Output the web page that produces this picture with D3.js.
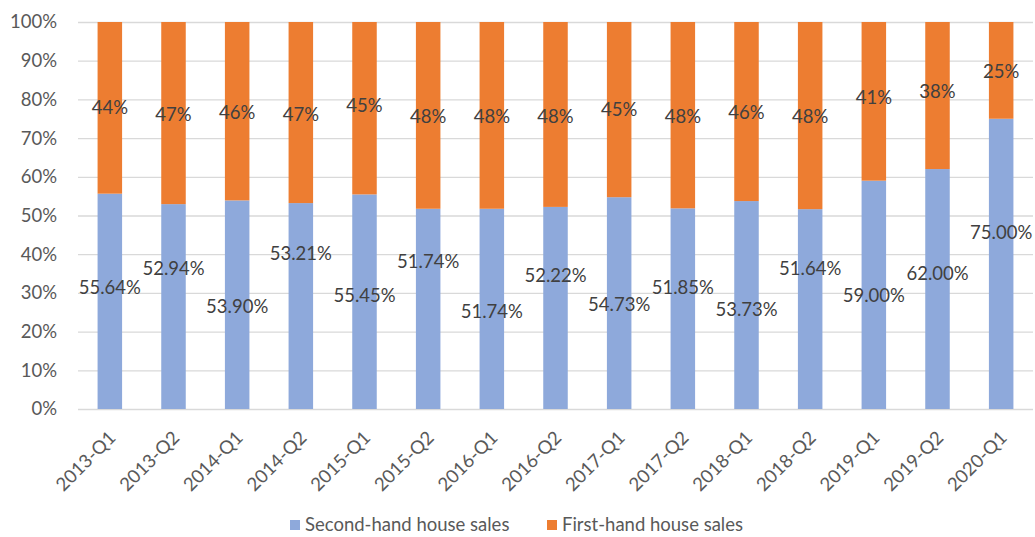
<!DOCTYPE html>
<html>
<head>
<meta charset="utf-8">
<script src="https://cdn.jsdelivr.net/npm/d3@7"></script>
<style>
  html, body { margin: 0; padding: 0; background: #fff; }
  svg { display: block; font-family: Lato, "Open Sans", sans-serif; }
</style>
</head>
<body>
<svg id="chart" width="1035" height="537"></svg>
<script>
// Quarterly share of house sales (percent of total)
const quarters = ["2013-Q1","2013-Q2","2014-Q1","2014-Q2","2015-Q1","2015-Q2","2016-Q1","2016-Q2",
                  "2017-Q1","2017-Q2","2018-Q1","2018-Q2","2019-Q1","2019-Q2","2020-Q1"];
const secondHand = [55.64, 52.94, 53.90, 53.21, 55.45, 51.74, 51.74, 52.22, 54.73, 51.85, 53.73, 51.64, 59.00, 62.00, 75.00];
const firstHand  = [44.36, 47.06, 46.10, 46.79, 44.55, 48.26, 48.26, 47.78, 45.27, 48.15, 46.27, 48.36, 41.00, 38.00, 25.00];
const yTicks = [0, 10, 20, 30, 40, 50, 60, 70, 80, 90, 100];
const seriesNames = ["Second-hand house sales", "First-hand house sales"];

// Hand-placed label heights (in axis percent units)
const secondLabelAt = [31.5, 36.4, 26.6, 40.3, 29.2, 38.0, 25.3, 34.6, 27.1, 31.3, 25.8, 36.4, 29.2, 34.9, 45.7];
const firstLabelAt  = [77.8, 76.2, 76.7, 76.2, 78.3, 75.7, 75.7, 75.7, 77.3, 75.7, 76.7, 75.7, 80.6, 82.0, 87.1];

const colors = ["#8EA9DB", "#ED7D31"];
const FONT = "18.5px";

const svg = d3.select("#chart");
const margin = { left: 78, right: 2, top: 22, bottom: 128 };
const W = 1035, H = 537;

const x = d3.scaleBand()
  .domain(quarters)
  .range([margin.left, W - margin.right])
  .paddingInner(0.615)
  .paddingOuter(0.3075);

const y = d3.scaleLinear().domain([0, 100]).range([H - margin.bottom, margin.top]);

// Gridlines and y tick labels
const yAxis = d3.axisLeft(y)
  .tickValues(yTicks)
  .tickSize(-(W - margin.right - margin.left))
  .tickPadding(21)
  .tickFormat(d => d + "%");

const gy = svg.append("g")
  .attr("transform", `translate(${margin.left},0)`)
  .call(yAxis);
gy.select(".domain").remove();
gy.selectAll(".tick line").attr("stroke", "#D9D9D9").attr("stroke-width", 1.3);
gy.selectAll(".tick text")
  .attr("fill", "#595959")
  .style("font-size", FONT)
  .style("font-family", "Lato, sans-serif");

// Stacked bars
const rows = quarters.map((q, i) => ({ q, s: secondHand[i], f: firstHand[i], i }));

svg.append("g").selectAll("rect.second")
  .data(rows).join("rect")
  .attr("class", "second")
  .attr("x", d => x(d.q))
  .attr("width", x.bandwidth())
  .attr("y", d => y(d.s))
  .attr("height", d => y(0) - y(d.s))
  .attr("fill", colors[0]);

svg.append("g").selectAll("rect.first")
  .data(rows).join("rect")
  .attr("class", "first")
  .attr("x", d => x(d.q))
  .attr("width", x.bandwidth())
  .attr("y", d => y(d.s + d.f))
  .attr("height", d => y(d.s) - y(d.s + d.f))
  .attr("fill", colors[1]);

// Data labels
const fmt2 = d => d.toFixed(2) + "%";
const fmt0 = d => Math.round(d) + "%";

svg.append("g").selectAll("text")
  .data(rows).join("text")
  .attr("x", d => x(d.q) + x.bandwidth() / 2)
  .attr("y", d => y(secondLabelAt[d.i]))
  .attr("dy", "0.35em")
  .attr("text-anchor", "middle")
  .attr("fill", "#404040")
  .style("font-size", FONT)
  .text(d => fmt2(d.s));

svg.append("g").selectAll("text")
  .data(rows).join("text")
  .attr("x", d => x(d.q) + x.bandwidth() / 2)
  .attr("y", d => y(firstLabelAt[d.i]))
  .attr("dy", "0.35em")
  .attr("text-anchor", "middle")
  .attr("fill", "#404040")
  .style("font-size", FONT)
  .text(d => fmt0(d.f));

// X axis labels, rotated
const xAxis = d3.axisBottom(x).tickSize(0).tickPadding(0);
const gx = svg.append("g")
  .attr("transform", `translate(0,${y(0)})`)
  .call(xAxis);
gx.select(".domain").remove();
gx.selectAll(".tick text")
  .attr("fill", "#595959")
  .style("font-size", FONT)
  .style("font-family", "Lato, sans-serif")
  .attr("text-anchor", "end")
  .attr("dy", null)
  .attr("y", 0)
  .attr("transform", "translate(7,30) rotate(-45)");

// Legend
const legend = svg.append("g").attr("transform", "translate(0,525)");
const legendX = [290, 547];
seriesNames.forEach((name, i) => {
  const g = legend.append("g").attr("transform", `translate(${legendX[i]},0)`);
  g.append("rect").attr("x", 0).attr("y", -5).attr("width", 10).attr("height", 10).attr("fill", colors[i]);
  g.append("text").attr("x", 15).attr("y", 0).attr("dy", "0.35em")
    .attr("fill", "#595959").style("font-size", FONT).text(name);
});
</script>
</body>
</html>
